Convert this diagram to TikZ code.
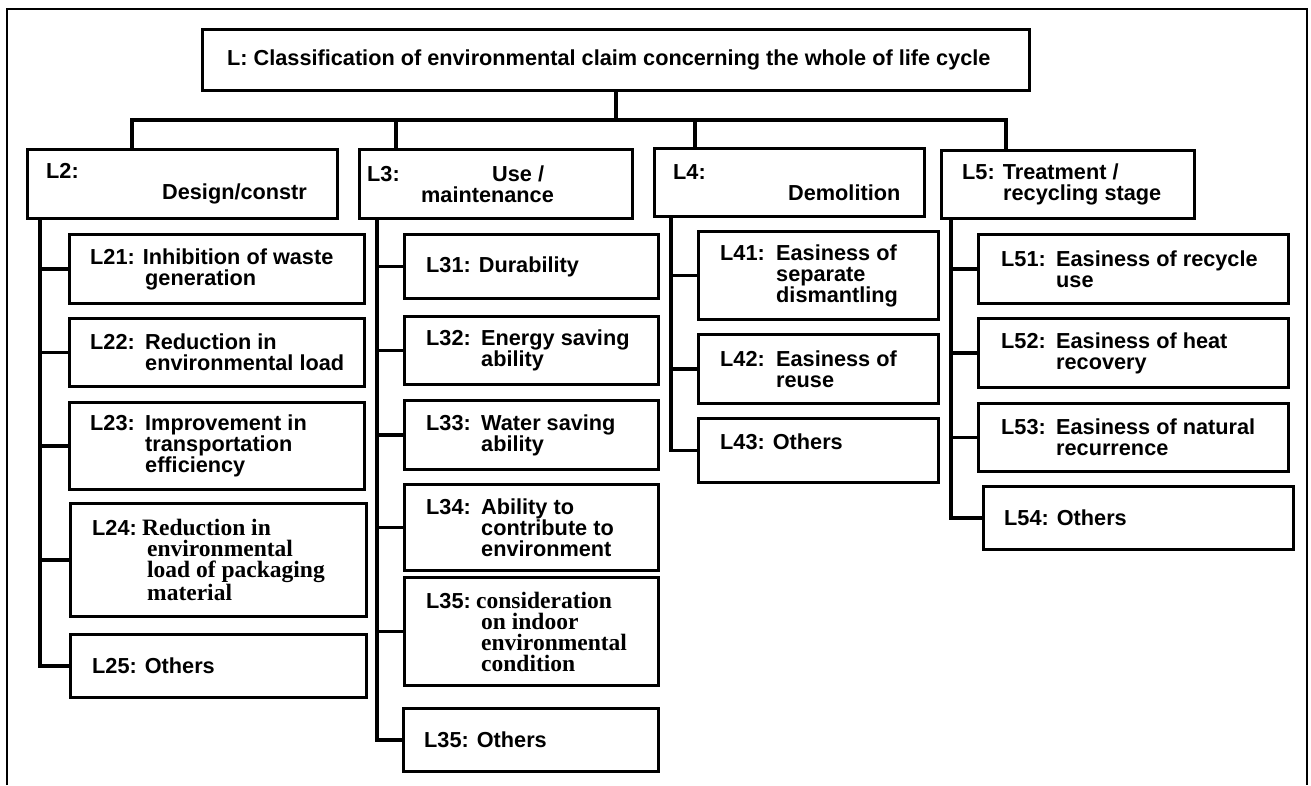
\documentclass[tikz,border=0pt]{standalone}
\usepackage{fontspec}
\setmainfont{Liberation Sans}
\newfontfamily\tnrfam{Liberation Serif}
\newcommand\tnr{\tnrfam\bfseries\fontsize{23.5}{21}\selectfont}
\newcommand\hd[2][55pt]{\makebox[#1][l]{#2}}
\newcommand\ind{\hspace*{55pt}}
\tikzset{
  box/.style={draw, line width=3pt, inner sep=0pt, anchor=north west},
  txt/.style={anchor=west, inner sep=0pt, align=left, font=\fontsize{21.7}{21}\selectfont\bfseries},
  wire/.style={line width=3.5pt},
  frame/.style={line width=2.5pt}
}
% \bx[text options]{name}{x1}{y1}{x2}{y2}{text offset}{text}
\newcommand\bx[8][]{%
  \node[box, minimum width={#5-#3}, minimum height={#6-#4}] (#2) at (#3,#4) {};
  \node[txt,#1] (#2t) at ([xshift=#7]#2.west) {#8};
}
\begin{document}
\begin{tikzpicture}[x=1pt,y=-1pt]
\fill[white] (0,0) rectangle (1311,785);
\useasboundingbox (0,0) rectangle (1311,785);
\draw[frame] (7,785) -- (7,9) -- (1307,9) -- (1307,785);

% top
\bx{T}{201}{28}{1028}{89}{26}{L: Classification of environmental claim concerning the whole of life cycle}

% level 2
\bx{L2}{26}{148}{336}{217}{20}{L2:\\\hspace*{116pt}Design/constr}
\bx{L3}{358}{148}{631}{217}{9}{\makebox[125pt][l]{L3:}Use /\\\hspace*{54pt}maintenance}
\bx{L4}{653}{147}{923}{215}{20}{L4:\\\hspace*{115pt}Demolition}
\bx{L5}{940}{149}{1193}{217}{22}{L5: Treatment /\\\hspace*{41pt}recycling stage}

% L2 children
\bx{L21}{68}{233}{363}{302}{22}{L21: Inhibition of waste\\\ind generation}
\bx{L22}{68}{317}{363}{385}{22}{\hd{L22:}Reduction in\\\ind environmental load}
\bx{L23}{68}{401}{363}{488}{22}{\hd{L23:}Improvement in\\\ind transportation\\\ind efficiency}
\bx{L24}{69}{502}{365}{615}{23}{\hd[50pt]{L24:}{\tnr Reduction in}\\\ind{\tnr environmental}\\\ind{\tnr load of packaging}\\\ind{\tnr material}}
\bx{L25}{69}{633}{365}{696}{23}{L25: Others}

% L3 children
\bx{L31}{403}{233}{657}{297}{23}{L31: Durability}
\bx{L32}{403}{315}{657}{383}{23}{\hd{L32:}Energy saving\\\ind ability}
\bx{L33}{403}{399}{657}{468}{23}{\hd{L33:}Water saving\\\ind ability}
\bx{L34}{403}{483}{657}{569}{23}{\hd{L34:}Ability to\\\ind contribute to\\\ind environment}
\bx{L35}{403}{576}{657}{684}{23}{\hd[50pt]{L35:}{\tnr consideration}\\\ind{\tnr on indoor}\\\ind{\tnr environmental}\\\ind{\tnr condition}}
\bx{L36}{402}{707}{657}{770}{22}{L35: Others}

% L4 children
\bx{L41}{697}{230}{937}{318}{23}{\hd[56pt]{L41:}Easiness of\\\hspace*{56pt}separate\\\hspace*{56pt}dismantling}
\bx{L42}{697}{333}{937}{402}{23}{\hd[56pt]{L42:}Easiness of\\\hspace*{56pt}reuse}
\bx[yshift=9pt]{L43}{697}{417}{937}{481}{23}{L43: Others}

% L5 children
\bx{L51}{977}{233}{1287}{302}{24}{\hd{L51:}Easiness of recycle\\\ind use}
\bx{L52}{977}{317}{1287}{386}{24}{\hd{L52:}Easiness of heat\\\ind recovery}
\bx{L53}{977}{402}{1287}{470}{24}{\hd{L53:}Easiness of natural\\\ind recurrence}
\bx{L54}{982}{485}{1292}{548}{22}{L54: Others}

% bus
\coordinate (bL) at (132,120);
\coordinate (b3) at (396,120);
\coordinate (b4) at (695,120);
\coordinate (bR) at (1006,120);
\draw[wire] (T.south) -- (T.south |- bL);
\draw[wire] (bL |- L2.north) -- (bL) -- (bR) -- (bR |- L5.north);
\draw[wire] (b3) -- (b3 |- L3.north);
\draw[wire] (b4) -- (b4 |- L4.north);

% spines
\coordinate (s2) at (40,0);
\coordinate (s3) at (377,0);
\coordinate (s4) at (671,0);
\coordinate (s5) at (951,0);
\draw[wire] (s2 |- L2.south) -- (s2 |- L25.west) -- (L25.west);
\foreach \n in {L21,L22,L23,L24} \draw[wire] (s2 |- \n.west) -- (\n.west);
\draw[wire] (s3 |- L3.south) -- (s3 |- L36.west) -- (L36.west);
\foreach \n in {L31,L32,L33,L34,L35} \draw[wire] (s3 |- \n.west) -- (\n.west);
\draw[wire] (s4 |- L4.south) -- (s4 |- L43.west) -- (L43.west);
\foreach \n in {L41,L42} \draw[wire] (s4 |- \n.west) -- (\n.west);
\draw[wire] (s5 |- L5.south) -- (s5 |- L54.west) -- (L54.west);
\foreach \n in {L51,L52,L53} \draw[wire] (s5 |- \n.west) -- (\n.west);
\end{tikzpicture}
\end{document}
